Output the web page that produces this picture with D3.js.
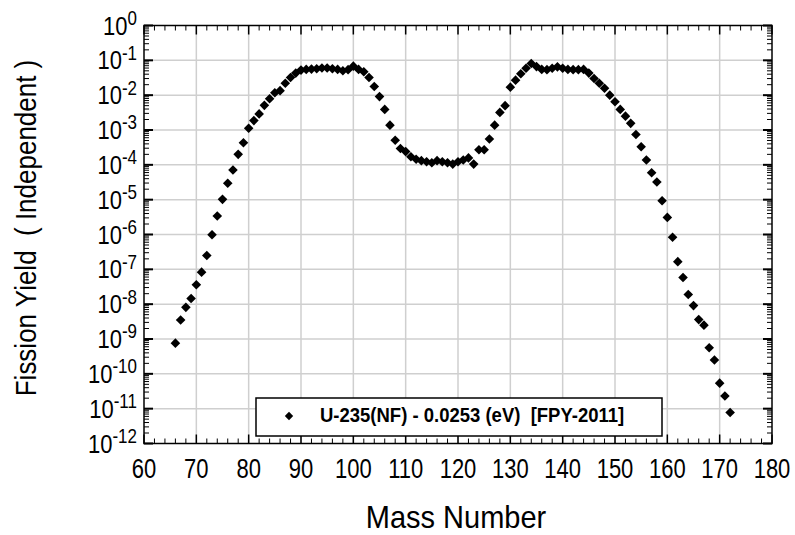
<!DOCTYPE html>
<meta charset="utf-8">
<script src="https://d3js.org/d3.v7.min.js"></script>
<body style="margin:0;background:#fff">
<svg width="795" height="535"></svg>
<script>
    // mass number and fission yield
    var masses = [66, 67, 68, 69, 70, 71, 72, 73, 74, 75, 76, 77, 78, 79, 80, 81, 82, 83, 84, 85,
                  86, 87, 88, 89, 90, 91, 92, 93, 94, 95, 96, 97, 98, 99, 100, 101, 102, 103, 104, 105,
                  106, 107, 108, 109, 110, 111, 112, 113, 114, 115, 116, 117, 118, 119, 120, 121, 122, 123, 124, 125,
                  126, 127, 128, 129, 130, 131, 132, 133, 134, 135, 136, 137, 138, 139, 140, 141, 142, 143, 144, 145,
                  146, 147, 148, 149, 150, 151, 152, 153, 154, 155, 156, 157, 158, 159, 160, 161, 162, 163, 164, 165,
                  166, 167, 168, 169, 170, 171, 172];
    var yields = [7.6e-10, 3.5e-9, 8.1e-9, 1.45e-8, 3.6e-8, 8.3e-8, 2.5e-7, 9.8e-7, 3.4e-6, 1.02e-5,
                  2.95e-5, 7.1e-5, 2.0e-4, 4.3e-4, 1.12e-3, 1.86e-3, 2.9e-3, 5.1e-3, 7.9e-3, 1.17e-2,
                  1.35e-2, 2.2e-2, 3.2e-2, 4.3e-2, 5.25e-2, 5.5e-2, 5.6e-2, 5.75e-2, 6.0e-2, 6.0e-2,
                  5.75e-2, 5.5e-2, 5.0e-2, 5.4e-2, 6.8e-2, 5.5e-2, 4.7e-2, 3.2e-2, 1.78e-2, 9.1e-3,
                  3.9e-3, 1.38e-3, 5.1e-4, 2.95e-4, 2.4e-4, 1.7e-4, 1.45e-4, 1.32e-4, 1.23e-4, 1.15e-4,
                  1.32e-4, 1.23e-4, 1.15e-4, 1.05e-4, 1.23e-4, 1.38e-4, 1.58e-4, 1.05e-4, 2.7e-4, 2.7e-4,
                  5.5e-4, 1.38e-3, 3.2e-3, 5.0e-3, 1.7e-2, 2.7e-2, 4.1e-2, 5.9e-2, 8.1e-2, 6.6e-2,
                  5.5e-2, 5.4e-2, 5.9e-2, 6.5e-2, 5.9e-2, 5.5e-2, 5.4e-2, 5.4e-2, 5.5e-2, 4.3e-2,
                  3.0e-2, 2.2e-2, 1.58e-2, 1.0e-2, 6.5e-3, 3.9e-3, 2.5e-3, 1.55e-3, 7.4e-4, 3.3e-4,
                  1.38e-4, 5.9e-5, 3.2e-5, 9.3e-6, 3.1e-6, 8.3e-7, 1.66e-7, 5.8e-8, 1.9e-8, 9.1e-9,
                  3.6e-9, 2.5e-9, 5.6e-10, 2.5e-10, 5.4e-11, 2.3e-11, 7.8e-12];

    var xTicks = [60, 70, 80, 90, 100, 110, 120, 130, 140, 150, 160, 170, 180];
    var xMinor = [62, 64, 66, 68, 72, 74, 76, 78, 82, 84, 86, 88, 92, 94, 96, 98, 102, 104, 106, 108,
                  112, 114, 116, 118, 122, 124, 126, 128, 132, 134, 136, 138, 142, 144, 146, 148,
                  152, 154, 156, 158, 162, 164, 166, 168, 172, 174, 176, 178];
    var yExp = [0, -1, -2, -3, -4, -5, -6, -7, -8, -9, -10, -11, -12];
    var yMinorMult = [2, 3, 4, 5, 6, 7, 8, 9];
    var legendLabel = "U-235(NF) - 0.0253 (eV)  [FPY-2011]";

    var svg = d3.select('svg');
    var pL = 144, pR = 772, pT = 25.5, pB = 443.5;

    var x = d3.scaleLinear().domain([60, 180]).range([pL, pR]);
    var y = d3.scaleLog().domain([1e-12, 1]).range([pB, pT]);

    var font = '"Liberation Sans", Arial, sans-serif';

    /* ----------- grid ----------- */
    svg.append('g').selectAll('line').data(xTicks.slice(1, -1)).enter().append('line')
        .attr('x1', function(d){ return x(d); }).attr('x2', function(d){ return x(d); })
        .attr('y1', pT).attr('y2', pB)
        .attr('stroke', '#cfcfcf').attr('stroke-width', 1.5);

    svg.append('g').selectAll('line').data(yExp.slice(1, -1)).enter().append('line')
        .attr('x1', pL).attr('x2', pR)
        .attr('y1', function(d){ return y(Math.pow(10, d)); })
        .attr('y2', function(d){ return y(Math.pow(10, d)); })
        .attr('stroke', '#cfcfcf').attr('stroke-width', 1.5);

    /* ----------- ticks (inside, all four sides) ----------- */
    var ticks = svg.append('g').attr('stroke', '#000');
    function xTickMarks(vals, len, w){
        vals.forEach(function(v){
            ticks.append('line').attr('x1', x(v)).attr('x2', x(v)).attr('y1', pB).attr('y2', pB - len).attr('stroke-width', w);
            ticks.append('line').attr('x1', x(v)).attr('x2', x(v)).attr('y1', pT).attr('y2', pT + len).attr('stroke-width', w);
        });
    }
    xTickMarks(xTicks, 9, 1.5);
    xTickMarks(xMinor, 5, 1);

    var yMinor = [];
    yExp.slice(1).forEach(function(e){
        yMinorMult.forEach(function(m){ yMinor.push(m * Math.pow(10, e)); });
    });
    function yTickMarks(vals, len, w){
        vals.forEach(function(v){
            ticks.append('line').attr('x1', pL).attr('x2', pL + len).attr('y1', y(v)).attr('y2', y(v)).attr('stroke-width', w);
            ticks.append('line').attr('x1', pR).attr('x2', pR - len).attr('y1', y(v)).attr('y2', y(v)).attr('stroke-width', w);
        });
    }
    yTickMarks(yExp.map(function(e){ return Math.pow(10, e); }), 9, 2);
    yTickMarks(yMinor, 5, 1);

    svg.append('rect')
        .attr('x', pL).attr('y', pT)
        .attr('width', pR - pL).attr('height', pB - pT)
        .attr('fill', 'none').attr('stroke', '#000').attr('stroke-width', 1.5);

    /* ----------- tick labels (text is a bit stretched vertically in the original) ----------- */
    svg.append('g').selectAll('text').data(xTicks).enter().append('text')
        .attr('transform', function(d){ return 'translate(' + x(d) + ',478) scale(1,1.25)'; })
        .attr('text-anchor', 'middle')
        .style('font-family', font).style('font-size', '22px')
        .text(function(d){ return d; });

    var yl = svg.append('g').selectAll('text').data(yExp).enter().append('text')
        .attr('transform', function(d){ return 'translate(137,' + (y(Math.pow(10, d)) + 9) + ') scale(1,1.2)'; })
        .attr('text-anchor', 'end')
        .style('font-family', font).style('font-size', '22px');
    yl.append('tspan').text('10');
    yl.append('tspan').attr('dy', -8).style('font-size', '17px').text(function(d){ return d; });

    /* ----------- axis titles ----------- */
    svg.append('text')
        .attr('transform', 'translate(' + ((pL + pR) / 2 - 2) + ',527.5) scale(1,1.08)')
        .attr('text-anchor', 'middle')
        .style('font-family', font).style('font-size', '29px')
        .text('Mass Number');

    svg.append('text')
        .attr('transform', 'translate(36,228) rotate(-90) scale(1,1.15)')
        .attr('text-anchor', 'middle')
        .style('font-family', font).style('font-size', '26px')
        .attr('xml:space', 'preserve')
        .text('Fission Yield  ( Independent )');

    /* ----------- points ----------- */
    var diamond = function(r){ return 'M0,' + (-r) + 'L' + r + ',0L0,' + r + 'L' + (-r) + ',0Z'; };

    svg.append('g').selectAll('path').data(masses).enter().append('path')
        .attr('transform', function(d, i){ return 'translate(' + x(d) + ',' + y(yields[i]) + ')'; })
        .attr('d', diamond(4.8))
        .attr('fill', '#000');

    /* ----------- legend ----------- */
    var lg = svg.append('g');
    lg.append('rect')
        .attr('x', 256).attr('y', 398).attr('width', 406).attr('height', 38)
        .attr('fill', '#fff').attr('stroke', '#000').attr('stroke-width', 1.5);
    lg.append('path')
        .attr('transform', 'translate(289,416)')
        .attr('d', diamond(4.2)).attr('fill', '#000');
    lg.append('text')
        .attr('transform', 'translate(320,422) scale(1,1.1)')
        .attr('xml:space', 'preserve')
        .style('font-family', font).style('font-size', '18.5px').style('font-weight', 'bold')
        .text(legendLabel);
</script>
</body>
